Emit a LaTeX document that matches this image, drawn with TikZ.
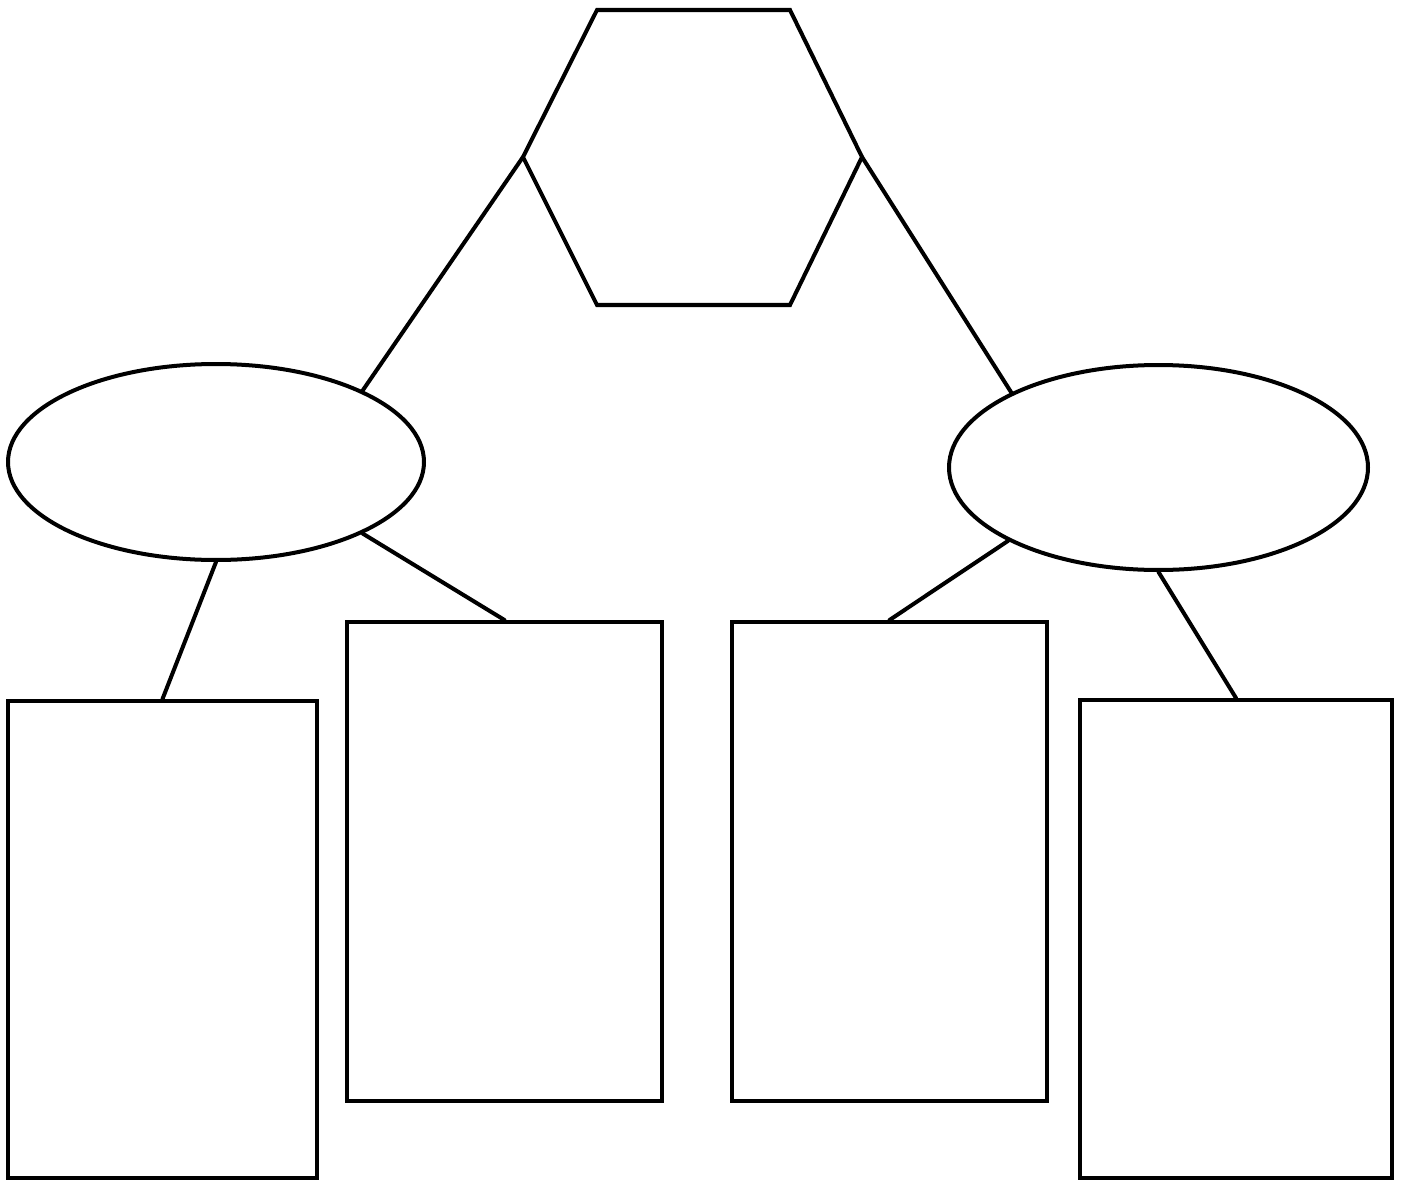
\documentclass[tikz,border=0pt]{standalone}
\usetikzlibrary{shapes.geometric}
\begin{document}
\begin{tikzpicture}[x=0.05cm,y=-0.05cm,
  ln/.style={line width=5.7pt, line cap=round, line join=miter},
  ellbox/.style={ellipse, draw, line width=5.7pt, inner sep=0pt},
  rectbox/.style={rectangle, draw, line width=5.7pt, inner sep=0pt}]
\useasboundingbox (0,0) rectangle (1404,1180);
% hexagon
\coordinate (h1) at (597,10);
\coordinate (h2) at (790,10);
\coordinate (h3) at (862,157);
\coordinate (h4) at (790,305);
\coordinate (h5) at (597,305);
\coordinate (h6) at (523,157);
\draw[ln] (h1) -- (h2) -- (h3) -- (h4) -- (h5) -- (h6) -- cycle;
% ellipses
\node[ellbox, minimum width=20.8cm, minimum height=9.8cm] (le) at (216,462) {};
\node[ellbox, minimum width=20.95cm, minimum height=10.25cm] (re) at (1158.5,467.5) {};
% rectangles
\node[rectbox, minimum width=15.45cm, minimum height=23.85cm] (r1) at (162.5,939.5) {};
\node[rectbox, minimum width=15.75cm, minimum height=23.95cm] (r2) at (504.5,861.5) {};
\node[rectbox, minimum width=15.75cm, minimum height=23.95cm] (r3) at (889.5,861.5) {};
\node[rectbox, minimum width=15.6cm, minimum height=23.9cm] (r4) at (1236,939) {};
% connectors
\draw[ln] (h6) -- (le.26);
\draw[ln] (h3) -- (re.153);
\draw[ln] (le.south) -- (r1.north);
\draw[ln] (le.-26) -- (r2.north);
\draw[ln] (re.206) -- (r3.north);
\draw[ln] (re.south) -- (r4.north);
\end{tikzpicture}
\end{document}
